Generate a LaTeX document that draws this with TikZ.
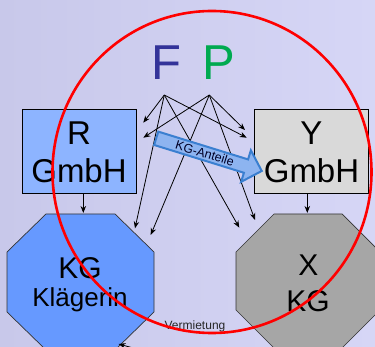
\documentclass[tikz,border=0pt]{standalone}
\usepackage{fontspec}
\setmainfont{Liberation Sans}
\usetikzlibrary{arrows.meta}
\definecolor{bgL}{RGB}{200,200,234}
\definecolor{bgR}{RGB}{214,214,246}
\definecolor{rfill}{RGB}{141,180,255}
\definecolor{kgfill}{RGB}{102,153,255}
\definecolor{yfill}{RGB}{217,217,217}
\definecolor{xfill}{RGB}{166,166,166}
\definecolor{fblue}{RGB}{51,51,153}
\definecolor{pgreen}{RGB}{0,170,80}
\definecolor{arrfill}{RGB}{141,180,240}
\definecolor{arrline}{RGB}{58,127,208}
\begin{document}
\begin{tikzpicture}[x=1pt,y=-1pt,
  conn/.style={draw=black,line width=0.8pt,-{Stealth[length=7pt,width=5.5pt]}},
  boxstyle/.style={draw=black,line width=0.8pt,minimum width=113.7pt,minimum height=84.3pt,inner sep=0pt},
  octstyle/.style={draw=black!80,line width=0.7pt},
  bigtxt/.style={font=\fontsize{33}{33}\selectfont,anchor=base,inner sep=0pt},
  octtxt/.style={font=\fontsize{30}{30}\selectfont,anchor=base,inner sep=0pt},
  smalltxt/.style={font=\fontsize{12}{12}\selectfont,anchor=base,inner sep=0pt}]
\useasboundingbox (0,0) rectangle (375,347);
\clip (0,0) rectangle (375,347);
\shade[left color=bgL,right color=bgR] (0,0) rectangle (375,347);
% boxes
\node[boxstyle,fill=rfill] (rbox) at (79.2,151.2) {};
\node[boxstyle,fill=yfill] (ybox) at (311.3,151.2) {};
% octagons
\filldraw[octstyle,fill=kgfill] (46,214) -- (115,214) -- (154,252) -- (154,312) -- (115,350) -- (46,350) -- (7,312) -- (7,252) -- cycle;
\filldraw[octstyle,fill=xfill] (274,214) -- (342,214) -- (380,252) -- (380,310) -- (342,348) -- (274,348) -- (236,310) -- (236,252) -- cycle;
\coordinate (kgtop) at (83.3,213);
\coordinate (xtop) at (307.3,213);
% texts
\node[bigtxt] at (79,145) {R};
\node[bigtxt] at (79,183) {GmbH};
\node[bigtxt] at (311.5,145) {Y};
\node[bigtxt] at (311.5,183) {GmbH};
\node[octtxt] at (80,278.3) {KG};
\node[font=\fontsize{26}{26}\selectfont,anchor=base,inner sep=0pt] at (80,306.7) {Klägerin};
\node[octtxt] at (308.3,275.5) {X};
\node[octtxt] at (308,311.7) {KG};
\node[font=\fontsize{49}{49}\selectfont,anchor=base,inner sep=0pt,text=fblue] (F) at (166.5,80) {F};
\node[font=\fontsize{49}{49}\selectfont,anchor=base,inner sep=0pt,text=pgreen] (P) at (218.5,80) {P};
% box to octagon arrows
\draw[conn] (rbox.south -| kgtop) -- (kgtop);
\draw[conn] (ybox.south -| xtop) -- (xtop);
% F and P sources and targets
\coordinate (fs) at (164.3,95);
\coordinate (ps) at (209.3,95);
\coordinate (fR) at (143.3,122.7);
\coordinate (pR) at (143.3,137.7);
\coordinate (pY) at (245,130);
\coordinate (fY) at (246.7,137.7);
\coordinate (fK) at (135,228.3);
\coordinate (pK) at (150.7,235);
\coordinate (fX) at (239.3,227.7);
\coordinate (pX) at (255,220);
\foreach \t in {fR,fY,fK,fX} \draw[conn] (fs) -- (\t);
\foreach \t in {pR,pY,pK,pX} \draw[conn] (ps) -- (\t);
% KG-Anteile block arrow
\begin{scope}[shift={(156.2,138.3)},rotate=-17.2]
\filldraw[fill=arrfill,draw=arrline,line width=2pt,line join=miter]
  (0,-7) -- (94,-7) -- (94,-16.5) -- (110.5,0) -- (94,16.5) -- (94,7) -- (0,7) -- cycle;
\node[font=\fontsize{12.5}{12.5}\selectfont,text=black!85!blue,inner sep=0pt,rotate=-17.2] (kganteile) at (51,0) {KG-Anteile};
\end{scope}
% Vermietung
\node[smalltxt,text=black!85] (verm) at (195,330) {Vermietung};
\coordinate (vtail) at (200,366);
\coordinate (vtip) at (118.5,344);
\draw[conn] (vtail) -- (vtip);
% red circle
\draw[red,line width=2.6pt] (212,172) ellipse [x radius=159.5,y radius=161];
\end{tikzpicture}
\end{document}
